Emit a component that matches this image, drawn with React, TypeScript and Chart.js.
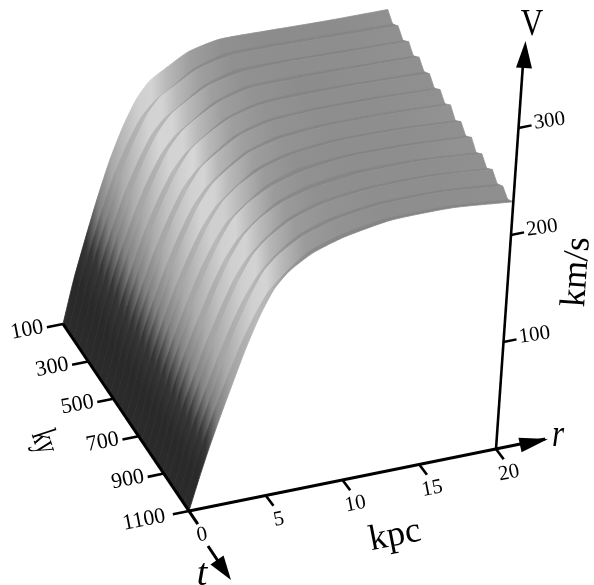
import React, { useEffect, useRef } from "react";
import { Chart, registerables } from "chart.js";

Chart.register(...registerables);

// radius grid (kpc) shared by every rotation curve
const radii = [0, 0.5, 1, 1.6, 2.3, 3, 3.8, 4.6, 5.5, 7, 9, 12, 16, 20];
// age of every rotation curve (kyr)
const ages = [100, 142, 183, 225, 267, 308, 350, 392, 433, 475, 517, 558, 600, 642, 683, 725, 767, 808, 850, 892, 933, 975, 1017, 1058, 1100];
// rotation curves V(r), km/s, read per age
const v100 = [0, 40, 72, 108, 145, 174, 199, 214, 222, 234, 240, 239, 237, 236];
const v142 = [0, 39, 70, 105, 140, 166, 189, 202, 210, 225, 234, 234, 232, 230];
const v183 = [0, 39, 71, 106, 143, 172, 198, 213, 221, 233, 239, 239, 237, 235];
const v225 = [0, 38, 69, 103, 137, 163, 187, 201, 209, 224, 233, 233, 231, 229];
const v267 = [0, 38, 69, 104, 140, 170, 195, 211, 220, 232, 238, 239, 237, 235];
const v308 = [0, 37, 67, 101, 134, 161, 184, 199, 208, 223, 232, 233, 231, 229];
const v350 = [0, 37, 68, 102, 137, 167, 193, 209, 219, 231, 238, 238, 237, 235];
const v392 = [0, 36, 65, 98, 132, 158, 182, 197, 207, 222, 231, 233, 231, 229];
const v433 = [0, 36, 66, 99, 135, 164, 190, 208, 218, 230, 237, 238, 237, 234];
const v475 = [0, 35, 64, 96, 129, 155, 180, 195, 206, 221, 230, 232, 231, 228];
const v517 = [0, 35, 65, 97, 132, 162, 188, 206, 216, 229, 236, 238, 237, 234];
const v558 = [0, 34, 63, 94, 126, 153, 178, 194, 205, 220, 229, 232, 231, 228];
const v600 = [0, 34, 63, 95, 129, 159, 186, 204, 215, 228, 235, 238, 237, 234];
const v642 = [0, 33, 61, 92, 124, 150, 175, 192, 203, 219, 228, 232, 231, 227];
const v683 = [0, 33, 62, 93, 126, 156, 183, 202, 214, 226, 234, 238, 237, 233];
const v725 = [0, 32, 60, 90, 121, 148, 173, 191, 202, 218, 228, 232, 231, 227];
const v767 = [0, 32, 60, 91, 124, 153, 181, 201, 213, 225, 233, 238, 237, 233];
const v808 = [0, 31, 58, 88, 118, 145, 171, 189, 201, 217, 227, 232, 231, 226];
const v850 = [0, 31, 58, 89, 121, 151, 179, 199, 212, 224, 232, 237, 237, 232];
const v892 = [0, 30, 57, 85, 116, 142, 169, 187, 200, 216, 226, 231, 231, 226];
const v933 = [0, 30, 57, 86, 118, 148, 176, 197, 210, 223, 232, 237, 237, 232];
const v975 = [0, 29, 55, 83, 113, 140, 166, 185, 199, 215, 225, 231, 231, 226];
const v1017 = [0, 29, 55, 84, 116, 146, 174, 196, 209, 222, 231, 237, 237, 231];
const v1058 = [0, 28, 54, 82, 111, 138, 164, 184, 197, 214, 224, 231, 231, 226];
const v1100 = [0, 28, 54, 82, 113, 143, 172, 194, 208, 221, 230, 237, 237, 231];
const curves = [v100, v142, v183, v225, v267, v308, v350, v392, v433, v475, v517, v558, v600, v642, v683, v725, v767, v808, v850, v892, v933, v975, v1017, v1058, v1100];

// axis ticks
const radiusTicks = [0, 5, 10, 15, 20];
const ageTicks = [1100, 900, 700, 500, 300, 100];
const speedTicks = [100, 200, 300];

// grey level of the surface by radius grid position
const radiusGrey = [0.17, 0.16, 0.21, 0.5, 0.64, 0.69, 0.74, 0.72, 0.62, 0.56, 0.54, 0.53, 0.53, 0.54];

// oblique projection of (r, age, V) on the page
const px = (r: number, age: number, v: number) => ({
  x: 189 + 15.35 * r - (1100 - age) * 0.126 + 0.075 * v,
  y: 511 - 3.1 * r - (1100 - age) * 0.187 - 1.07 * v,
});

const grey = (g: number) => {
  const c = Math.round(Math.max(0.05, Math.min(0.95, g)) * 255);
  return `rgb(${c},${c},${c})`;
};

const SERIF = '"Liberation Serif"';

export default function App() {
  const ref = useRef<HTMLCanvasElement>(null);
  useEffect(() => {
    const canvas = ref.current!;
    const ctx = canvas.getContext("2d")!;
    const datasets: any[] = [];
    const line = (pts: { x: number; y: number }[], width: number) =>
      datasets.push({ data: pts, showLine: true, borderColor: "#000", borderWidth: width, pointRadius: 0, fill: false, borderCapStyle: "butt", tension: 0 });
    const arrow = (tip: { x: number; y: number }, base: { x: number; y: number }, w: number) => {
      const dx = tip.x - base.x, dy = tip.y - base.y, l = Math.hypot(dx, dy);
      const nx = (-dy / l) * (w / 2), ny = (dx / l) * (w / 2);
      datasets.push({
        data: [tip, { x: base.x + nx, y: base.y + ny }, { x: base.x - nx, y: base.y - ny }, tip],
        showLine: true, borderWidth: 0, pointRadius: 0, backgroundColor: "#000", fill: "shape", tension: 0,
      });
    };

    // axes on top: first datasets are drawn last
    const o = px(0, 1100, 0);
    const r20 = px(20, 1100, 0);
    line([o, px(23.2, 1100, 0)], 3);
    arrow({ x: 548, y: 439 }, { x: 520, y: 445 }, 15);
    line([r20, px(20, 1100, 370)], 2.6);
    arrow({ x: 525.5, y: 41 }, { x: 524, y: 68 }, 16);
    line([px(0, 100, 0), px(0, 1170, 0)], 3);
    line([{ x: 208, y: 546 }, { x: 218, y: 561 }], 3);
    arrow({ x: 231, y: 580 }, { x: 217, y: 560 }, 16);
    radiusTicks.forEach((r) => {
      const a = px(r, 1100, 0);
      if (r > 0) line([a, { x: a.x + 7.7, y: a.y + 10.3 }], 2.6);
    });
    ageTicks.forEach((t) => line([px(0, t, 0), px(-1.05, t, 0)], 2.6));
    speedTicks.forEach((v) => line([px(20, 1100, v), px(20.85, 1100, v)], 2.4));

    // surface strips, nearest first so that the farthest is painted first
    for (let i = curves.length - 2; i >= 0; i--) {
      const a = curves[i], b = curves[i + 1];
      const pa = radii.map((r, j) => px(r, ages[i], a[j]));
      const pb = radii.map((r, j) => px(r, ages[i + 1], b[j])).reverse();
      const n = radii.length;
      const mid = radii.map((_, j) => (pa[j].x + pb[n - 1 - j].x) / 2);
      const x0 = mid[0], x1 = mid[n - 1];
      const grad = ctx.createLinearGradient(x0, 0, x1, 0);
      radii.forEach((_, j) => {
        const slope = (b[j] - a[j]) / (ages[i + 1] - ages[i]);
        const g = radiusGrey[j] + (slope < 0 ? 1.3 * slope * slope : -0.08 * slope);
        grad.addColorStop(Math.min(1, (mid[j] - x0) / (x1 - x0)), grey(g));
      });
      datasets.push({
        // end points repeated so that the curve's smoothing leaves the strip's ends sharp
        data: [pa[0], ...pa, pa[n - 1], pb[0], ...pb, pb[n - 1], pa[0], pa[0]],
        showLine: true, pointRadius: 0, fill: "shape", tension: 0.2,
        backgroundColor: grad, borderColor: grad, borderWidth: 0.8,
      });
    }

    const labels = {
      id: "axisLabels",
      afterDatasetsDraw(chart: any) {
        const c = chart.ctx;
        const put = (s: string, x: number, y: number, size: number, deg: number, italic = false, sx = 1) => {
          c.save();
          c.translate(x, y);
          c.rotate((deg * Math.PI) / 180);
          c.scale(sx, 1);
          c.font = `${italic ? "italic " : ""}${size}px ${SERIF}`;
          c.fillStyle = "#000";
          c.textAlign = "center";
          c.textBaseline = "middle";
          c.fillText(s, 0, 0);
          c.restore();
        };
        radiusTicks.forEach((r) => {
          const a = px(r, 1100, 0);
          put(String(r), a.x + 13, a.y + 24, 21, -11);
        });
        ageTicks.forEach((t) => {
          const a = px(0, t, 0);
          const w = t > 999;
          put(String(t), a.x + (w ? -45 : -36), a.y + (w ? 9 : 6), 22, -11);
        });
        speedTicks.forEach((v) => {
          const a = px(20, 1100, v);
          put(String(v), a.x + 31, a.y - 7, 21, -8);
        });
        put("kpc", 395, 536, 36, -11);
        put("km/s", 577, 272, 36, -86);
        put("V", 532, 25, 38, 0, false, 0.82);
        put("r", 558, 436, 38, 0, true, 0.82);
        put("t", 202, 575, 38, 0, true);
        put("ky", 44, 442, 36, 72, false, 0.62);
      },
    };

    const chart = new Chart(canvas, {
      type: "scatter",
      data: { datasets },
      options: {
        animation: false,
        responsive: false,
        events: [],
        layout: { padding: 0 },
        scales: {
          x: { type: "linear", display: false, min: 0, max: 594 },
          y: { type: "linear", display: false, min: 0, max: 585, reverse: true },
        },
        plugins: {
          legend: { display: false },
          tooltip: { enabled: false },
          filler: { drawTime: "beforeDatasetDraw", propagate: false },
        },
      },
      plugins: [labels],
    } as any);
    return () => chart.destroy();
  }, []);
  return <canvas ref={ref} width={594} height={585} style={{ position: "fixed", left: 0, top: 0, display: "block" }} />;
}
